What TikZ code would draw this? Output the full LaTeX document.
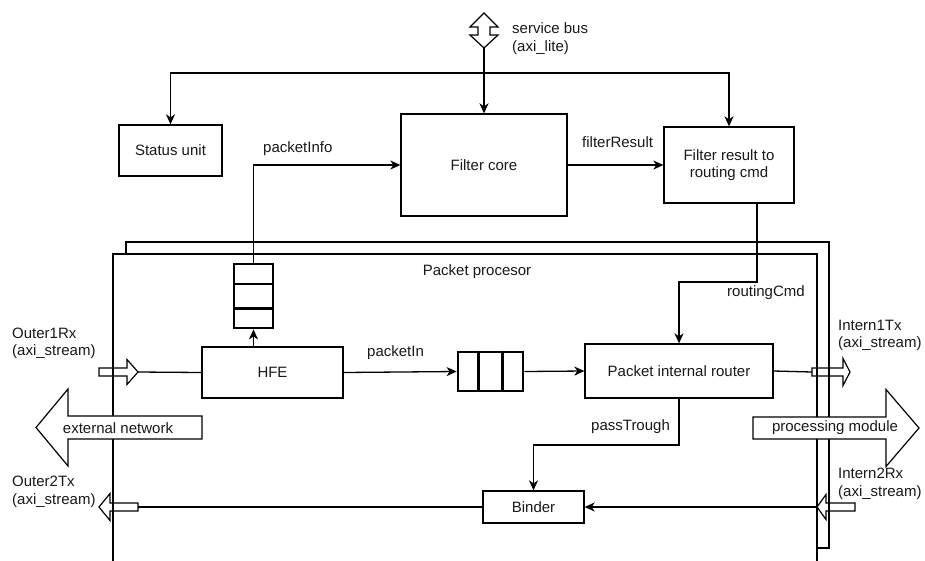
\documentclass[tikz,border=0pt]{standalone}
\usepackage{fontspec}
\setmainfont{Liberation Sans}
\usetikzlibrary{arrows.meta}
\tikzset{
  every node/.style={font=\fontsize{15}{17.5}\selectfont, text=black!90},
  box/.style={draw, fill=white, line width=1.3pt, inner sep=0pt, align=center},
  lbl/.style={anchor=west, inner sep=0pt, align=left},
  conn/.style={line width=1.3pt, -{Stealth[length=10pt,width=9pt,inset=3pt]}},
  wire/.style={line width=1.3pt},
  queue/.style={draw, line width=2.8pt, inner sep=0pt, fill=white},
  cell/.style={line width=2.8pt},
  blk/.style={draw, line width=1.2pt, line join=miter},
}
\begin{document}
\begin{tikzpicture}[x=1pt,y=-1pt]
\clip (0,0) rectangle (925,560);
\fill[white] (0,0) rectangle (925,560);

% container (stacked)
\node[box, minimum width=703, minimum height=306] (ppback) at (477.5,395) {};
\node[box, minimum width=704, minimum height=330] (pp) at (465,419) {};
\node (pplbl) at (477,272) {Packet procesor};

% service bus double arrow
\draw[blk, fill=white] (484,13) -- (498,27) -- (490,27) -- (490,35) -- (498,35) -- (484,48)
  -- (470,35) -- (478,35) -- (478,27) -- (470,27) -- cycle;
\coordinate (busbot) at (484,48);
\coordinate (busj) at (484,73);
\node[lbl] (buslbl) at (512,38.5) {service bus\\(axi\_lite)};

% top boxes
\node[box, minimum width=103, minimum height=51] (status) at (170.5,150.5) {Status unit};
\node[box, minimum width=166, minimum height=102] (fc) at (484,165) {Filter core};
\node[box, minimum width=130, minimum height=76] (frc) at (729,165) {Filter result to\\routing cmd};

\draw[conn] (busbot) -- (fc.north);
\draw[conn] (busj) -| (status.north);
\draw[conn] (busj) -| (frc.north);

% queues
\node[queue, minimum width=39, minimum height=64] (qv) at (253.5,296) {};
\draw[cell] ([yshift=-21.3pt]qv.north west) -- ([yshift=-21.3pt]qv.north east);
\draw[cell] ([yshift=21.3pt]qv.south west) -- ([yshift=21.3pt]qv.south east);
\node[queue, minimum width=65, minimum height=39] (qh) at (490.5,371.5) {};
\draw[cell] ([xshift=21.7pt]qh.north west) -- ([xshift=21.7pt]qh.south west);
\draw[cell] ([xshift=-21.7pt]qh.north east) -- ([xshift=-21.7pt]qh.south east);

% inner boxes
\node[box, minimum width=141, minimum height=51] (hfe) at (272.5,372.5) {HFE};
\node[box, minimum width=188, minimum height=54] (pir) at (679,371) {Packet internal router};
\node[box, minimum width=101, minimum height=32] (binder) at (533.5,507) {Binder};

% connectors
\draw[conn] (qv.north) |- (fc.west);
\node[lbl] (pilbl) at (263,149) {packetInfo};
\draw[conn] (fc.east) -- (frc.west);
\node[lbl] (frlbl) at (582,142) {filterResult};
\coordinate (rcbend) at (757,282);
\draw[conn] (frc.south -| rcbend) -- (rcbend) -| (pir.north);
\node[lbl] (rclbl) at (727,293) {routingCmd};
\draw[conn] (hfe.north -| qv.south) -- (qv.south);
\draw[conn] (hfe.east) -- (qh.west);
\node[lbl] (pinlbl) at (367,353) {packetIn};
\draw[conn] (qh.east) -- (pir.west);
\coordinate (ptc) at (0,445);
\draw[conn] (pir.south) -- (pir.south |- ptc) -| (binder.north);
\node[lbl] (ptlbl) at (591,427) {passTrough};

% IO block arrows
\draw[blk] (99,368) -- (127,368) -- (127,359.5) -- (138,372) -- (127,384.5) -- (127,376) -- (99,376) -- cycle;
\coordinate (o1tip) at (138,372);
\draw[wire] (o1tip) -- (hfe.west);
\node[lbl] (o1lbl) at (12,343.5) {Outer1Rx\\(axi\_stream)};

\draw[blk] (99,507) -- (110,493.5) -- (110,503) -- (138,503) -- (138,511) -- (110,511) -- (110,520.5) -- cycle;
\coordinate (o2tail) at (138,507);
\draw[wire] (binder.west) -- (o2tail);
\node[lbl] (o2lbl) at (12,492) {Outer2Tx\\(axi\_stream)};

\draw[blk] (812,368) -- (843,368) -- (843,358.5) -- (850,372) -- (843,385.5) -- (843,376) -- (812,376) -- cycle;
\coordinate (i1tail) at (812,372);
\draw[wire] (pir.east) -- (i1tail);
\node[lbl] (i1lbl) at (838,335.5) {Intern1Tx\\(axi\_stream)};

\draw[blk] (817,507) -- (826,494.5) -- (826,503) -- (855,503) -- (855,511) -- (826,511) -- (826,519.5) -- cycle;
\coordinate (i2tip) at (817,507);
\draw[conn] (i2tip) -- (binder.east);
\node[lbl] (i2lbl) at (838,484) {Intern2Rx\\(axi\_stream)};

% big arrows
\draw[blk, fill=white] (36,427.5) -- (68,389) -- (68,416) -- (202,416) -- (202,439) -- (68,439) -- (68,466) -- cycle;
\node (extlbl) at (118,428) {external network};
\draw[blk, fill=white] (753,417) -- (886,417) -- (886,389.5) -- (919,428) -- (886,466.5) -- (886,439) -- (753,439) -- cycle;
\node (proclbl) at (835,428) {processing module};
\end{tikzpicture}
\end{document}
